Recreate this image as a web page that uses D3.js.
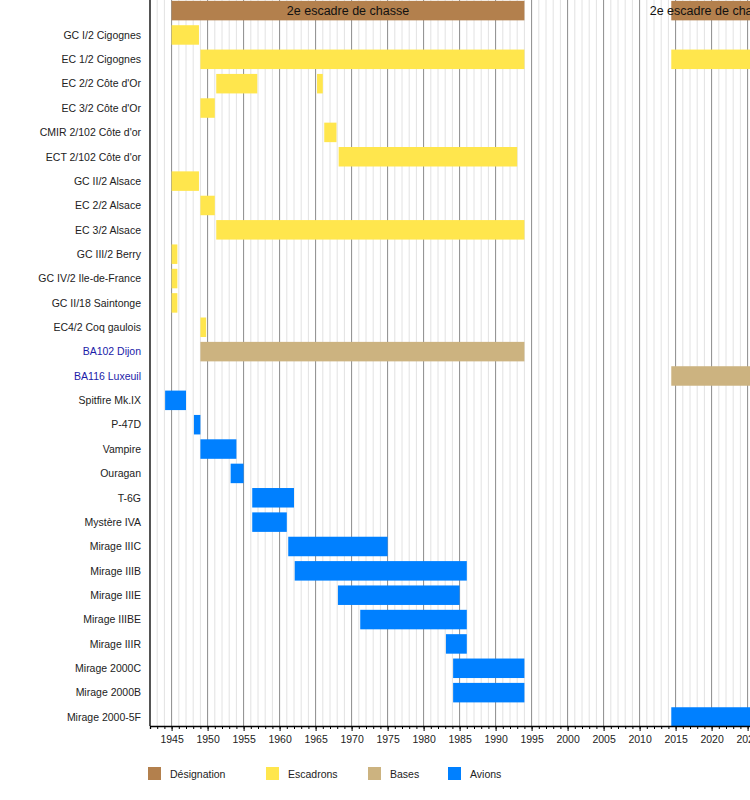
<!DOCTYPE html>
<html>
<head>
<meta charset="utf-8">
<script src="https://cdn.jsdelivr.net/npm/d3@7"></script>
<style>
  body { margin: 0; background: #fff; }
  svg text { font-family: "Liberation Sans", Arial, sans-serif; }
</style>
</head>
<body>
<div id="graph"></div>
<script>
// rows, top to bottom (first row holds the designation bar, no label)
var rowLabels = ["", "GC I/2 Cigognes", "EC 1/2 Cigognes", "EC 2/2 Côte d'Or", "EC 3/2 Côte d'Or",
    "CMIR 2/102 Côte d'or", "ECT 2/102 Côte d'or", "GC II/2 Alsace", "EC 2/2 Alsace", "EC 3/2 Alsace",
    "GC III/2 Berry", "GC IV/2 Ile-de-France", "GC II/18 Saintonge", "EC4/2 Coq gaulois",
    "BA102 Dijon", "BA116 Luxeuil", "Spitfire Mk.IX", "P-47D", "Vampire", "Ouragan", "T-6G",
    "Mystère IVA", "Mirage IIIC", "Mirage IIIB", "Mirage IIIE", "Mirage IIIBE", "Mirage IIIR",
    "Mirage 2000C", "Mirage 2000B", "Mirage 2000-5F"];

var linkLabels = ["BA102 Dijon", "BA116 Luxeuil"];

var groups = ["Désignation", "Escadrons", "Bases", "Avions"];

// [row, from, to, text]
var designationBars = [
    ["", 1945, 1994, "2e escadre de chasse"],
    ["", 2014.4, 2025.4, "2e escadre de chasse"]
];

var escadronBars = [
    ["GC I/2 Cigognes", 1945, 1948.8],
    ["EC 1/2 Cigognes", 1949, 1994],
    ["EC 1/2 Cigognes", 2014.4, 2025.4],
    ["EC 2/2 Côte d'Or", 1951.2, 1956.9],
    ["EC 2/2 Côte d'Or", 1965.2, 1966],
    ["EC 3/2 Côte d'Or", 1949, 1951],
    ["CMIR 2/102 Côte d'or", 1966.2, 1967.9],
    ["ECT 2/102 Côte d'or", 1968.2, 1993],
    ["GC II/2 Alsace", 1945, 1948.8],
    ["EC 2/2 Alsace", 1949, 1951],
    ["EC 3/2 Alsace", 1951.2, 1994],
    ["GC III/2 Berry", 1945, 1945.8],
    ["GC IV/2 Ile-de-France", 1945, 1945.8],
    ["GC II/18 Saintonge", 1945, 1945.8],
    ["EC4/2 Coq gaulois", 1949, 1949.8]
];

var baseBars = [
    ["BA102 Dijon", 1949, 1994],
    ["BA116 Luxeuil", 2014.4, 2025.4]
];

var avionBars = [
    ["Spitfire Mk.IX", 1944.1, 1947],
    ["P-47D", 1948.1, 1949],
    ["Vampire", 1949, 1954],
    ["Ouragan", 1953.2, 1955],
    ["T-6G", 1956.2, 1962],
    ["Mystère IVA", 1956.2, 1961],
    ["Mirage IIIC", 1961.2, 1975],
    ["Mirage IIIB", 1962.1, 1986],
    ["Mirage IIIE", 1968.1, 1985],
    ["Mirage IIIBE", 1971.2, 1986],
    ["Mirage IIIR", 1983.1, 1986],
    ["Mirage 2000C", 1984.1, 1994],
    ["Mirage 2000B", 1984.1, 1994],
    ["Mirage 2000-5F", 2014.4, 2025.4]
];

var yearStart = 1942,
    yearEnd = 2026;

(function() {

    var width = 750,
        height = 800,
        left = 150,
        axisY = 726,
        barHeight = 19.5;

    var colors = {
        "Désignation": "#b3804d",
        "Escadrons": "#ffe64d",
        "Bases": "#ccb380",
        "Avions": "#0080ff"
    };

    var svg = d3.select('#graph')
        .append('svg')
        .attr('width', width)
        .attr('height', height);

    var x = d3.scaleLinear()
        .domain([yearStart, yearEnd])
        .range([left, left + (yearEnd - yearStart) * 7.2]);

    var y = d3.scalePoint()
        .domain(rowLabels)
        .range([10.6, 717]);

    // grid: one light line per year, a darker one every 5 years
    var years = d3.range(yearStart, yearEnd + 1);
    svg.append('g')
        .selectAll('line')
        .data(years.filter(function(d) { return d % 5 != 0; }))
        .enter()
        .append('line')
        .attr('x1', function(d) { return x(d); })
        .attr('x2', function(d) { return x(d); })
        .attr('y1', 0)
        .attr('y2', axisY)
        .attr('stroke', '#e2e2e2')
        .attr('stroke-width', 1);

    svg.append('g')
        .selectAll('line')
        .data(years.filter(function(d) { return d % 5 == 0; }))
        .enter()
        .append('line')
        .attr('x1', function(d) { return x(d); })
        .attr('x2', function(d) { return x(d); })
        .attr('y1', 0)
        .attr('y2', axisY)
        .attr('stroke', '#8c8c8c')
        .attr('stroke-width', 1);

    // bars
    var barSets = [
        [designationBars, "Désignation"],
        [escadronBars, "Escadrons"],
        [baseBars, "Bases"],
        [avionBars, "Avions"]
    ];

    barSets.forEach(function(set) {
        svg.append('g')
            .selectAll('rect')
            .data(set[0])
            .enter()
            .append('rect')
            .attr('x', function(d) { return x(d[1]); })
            .attr('width', function(d) { return x(d[2]) - x(d[1]); })
            .attr('y', function(d) { return y(d[0]) - barHeight / 2; })
            .attr('height', barHeight)
            .attr('fill', colors[set[1]]);
    });

    svg.append('g')
        .selectAll('text')
        .data(designationBars)
        .enter()
        .append('text')
        .attr('x', function(d) { return (x(d[1]) + x(d[2])) / 2; })
        .attr('y', function(d) { return y(d[0]) + 4.5; })
        .attr('text-anchor', 'middle')
        .attr('font-size', '12.5px')
        .attr('fill', '#111')
        .text(function(d) { return d[3]; });

    // row labels
    svg.append('g')
        .selectAll('text')
        .data(rowLabels.filter(function(d) { return d != ""; }))
        .enter()
        .append('text')
        .attr('x', 141)
        .attr('y', function(d) { return y(d) + 3.8; })
        .attr('text-anchor', 'end')
        .attr('font-size', '10.5px')
        .attr('fill', function(d) { return linkLabels.indexOf(d) >= 0 ? '#1b1ba8' : '#222'; })
        .text(function(d) { return d; });

    // axes
    svg.append('line')
        .attr('x1', left)
        .attr('x2', left)
        .attr('y1', 0)
        .attr('y2', axisY)
        .attr('stroke', '#000')
        .attr('stroke-width', 1.3);

    var minorAxis = d3.axisBottom(x)
        .tickValues(years)
        .tickSize(3)
        .tickFormat('');

    svg.append('g')
        .attr('transform', 'translate(0,' + axisY + ')')
        .call(minorAxis)
        .call(function(g) {
            g.select('.domain').attr('stroke', '#000').attr('stroke-width', 1.3);
        });

    var majorAxis = d3.axisBottom(x)
        .tickValues(years.filter(function(d) { return d % 5 == 0; }))
        .tickSize(5)
        .tickPadding(5)
        .tickFormat(d3.format('d'));

    svg.append('g')
        .attr('transform', 'translate(0,' + axisY + ')')
        .call(majorAxis)
        .call(function(g) {
            g.select('.domain').remove();
            g.selectAll('text')
                .attr('font-size', '10.5px')
                .attr('fill', '#222')
                .attr('font-family', '"Liberation Sans", Arial, sans-serif');
        });

    // legend
    var legendX = [148, 266, 368, 448];
    var legend = svg.append('g')
        .selectAll('g')
        .data(groups)
        .enter()
        .append('g')
        .attr('transform', function(d, i) { return 'translate(' + legendX[i] + ',767)'; });

    legend.append('rect')
        .attr('width', 13)
        .attr('height', 13)
        .attr('fill', function(d) { return colors[d]; });

    legend.append('text')
        .attr('x', 22)
        .attr('y', 11)
        .attr('font-size', '10.5px')
        .attr('fill', '#222')
        .text(function(d) { return d; });

})();
</script>
</body>
</html>
